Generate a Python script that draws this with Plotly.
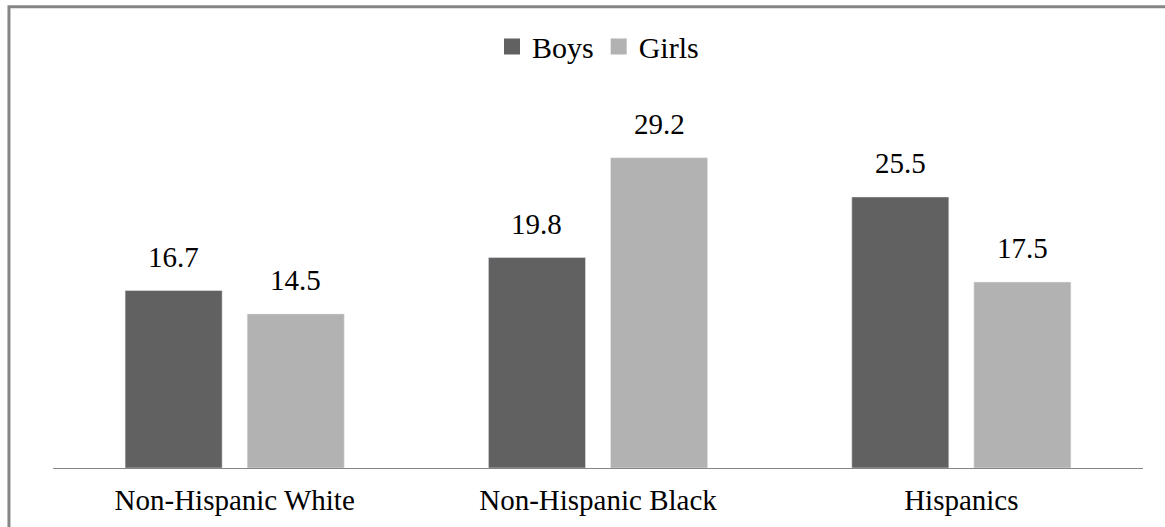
import plotly.graph_objects as go

categories = ["Non-Hispanic White", "Non-Hispanic Black", "Hispanics"]
boys = [16.7, 19.8, 25.5]
girls = [14.5, 29.2, 17.5]
series = [("Boys", boys, "#616161"), ("Girls", girls, "#b2b2b2")]

FONT = "Liberation Serif"
BARGAP = 0.328
BARGROUPGAP = 0.205
ML, MR, MT, MB = 53, 22, 96, 59
W, H = 1165, 527


def serif(s):
    return f"<span style='font-family:{FONT}, Times New Roman, serif'>{s}</span>"


fig = go.Figure()
for name, vals, col in series:
    fig.add_trace(go.Bar(name=name, x=categories, y=vals, marker_color=col,
                         showlegend=False, hoverinfo="x+y"))
    fig.add_trace(go.Scatter(name=serif(name), x=[None], y=[None], mode="markers",
                             marker=dict(symbol="square", size=16, color=col),
                             showlegend=True))

# value labels above bars, placed at each bar's centre
plot_w = W - ML - MR
cat_w = plot_w / len(categories)
slot = cat_w * (1 - BARGAP) / len(series)
for j, (name, vals, col) in enumerate(series):
    off = (j - (len(series) - 1) / 2) * slot
    for c, v in zip(categories, vals):
        fig.add_annotation(x=c, y=v, xref="x", yref="y", text=serif(f"{v:.1f}"),
                           showarrow=False, xshift=off, yshift=16, yanchor="bottom",
                           font=dict(family=FONT, size=29, color="black"))

fig.update_layout(
    width=W, height=H,
    margin=dict(l=ML, r=MR, t=MT, b=MB),
    paper_bgcolor="white", plot_bgcolor="white",
    barmode="group", bargap=BARGAP, bargroupgap=BARGROUPGAP,
    font=dict(family=FONT, size=29, color="black"),
    showlegend=True,
    legend=dict(orientation="h", x=0.5, xanchor="center", y=1.133, yanchor="middle",
                font=dict(family=FONT, size=30, color="black"), itemwidth=30,
                bgcolor="rgba(0,0,0,0)"),
    xaxis=dict(showline=True, linecolor="#868686", linewidth=1, ticks="", showgrid=False,
               zeroline=False, ticklabelstandoff=6,
               tickmode="array", tickvals=categories,
               ticktext=[serif(c) for c in categories],
               tickfont=dict(family=FONT, size=29, color="black")),
    yaxis=dict(range=[0, 35], visible=False, showgrid=False, zeroline=False),
    shapes=[dict(type="rect", xref="paper", yref="paper",
                 x0=-0.0404, x1=1.2, y0=-0.4, y1=1.240,
                 line=dict(color="#868686", width=3), fillcolor="rgba(0,0,0,0)")],
)

fig.write_html("out.html")
